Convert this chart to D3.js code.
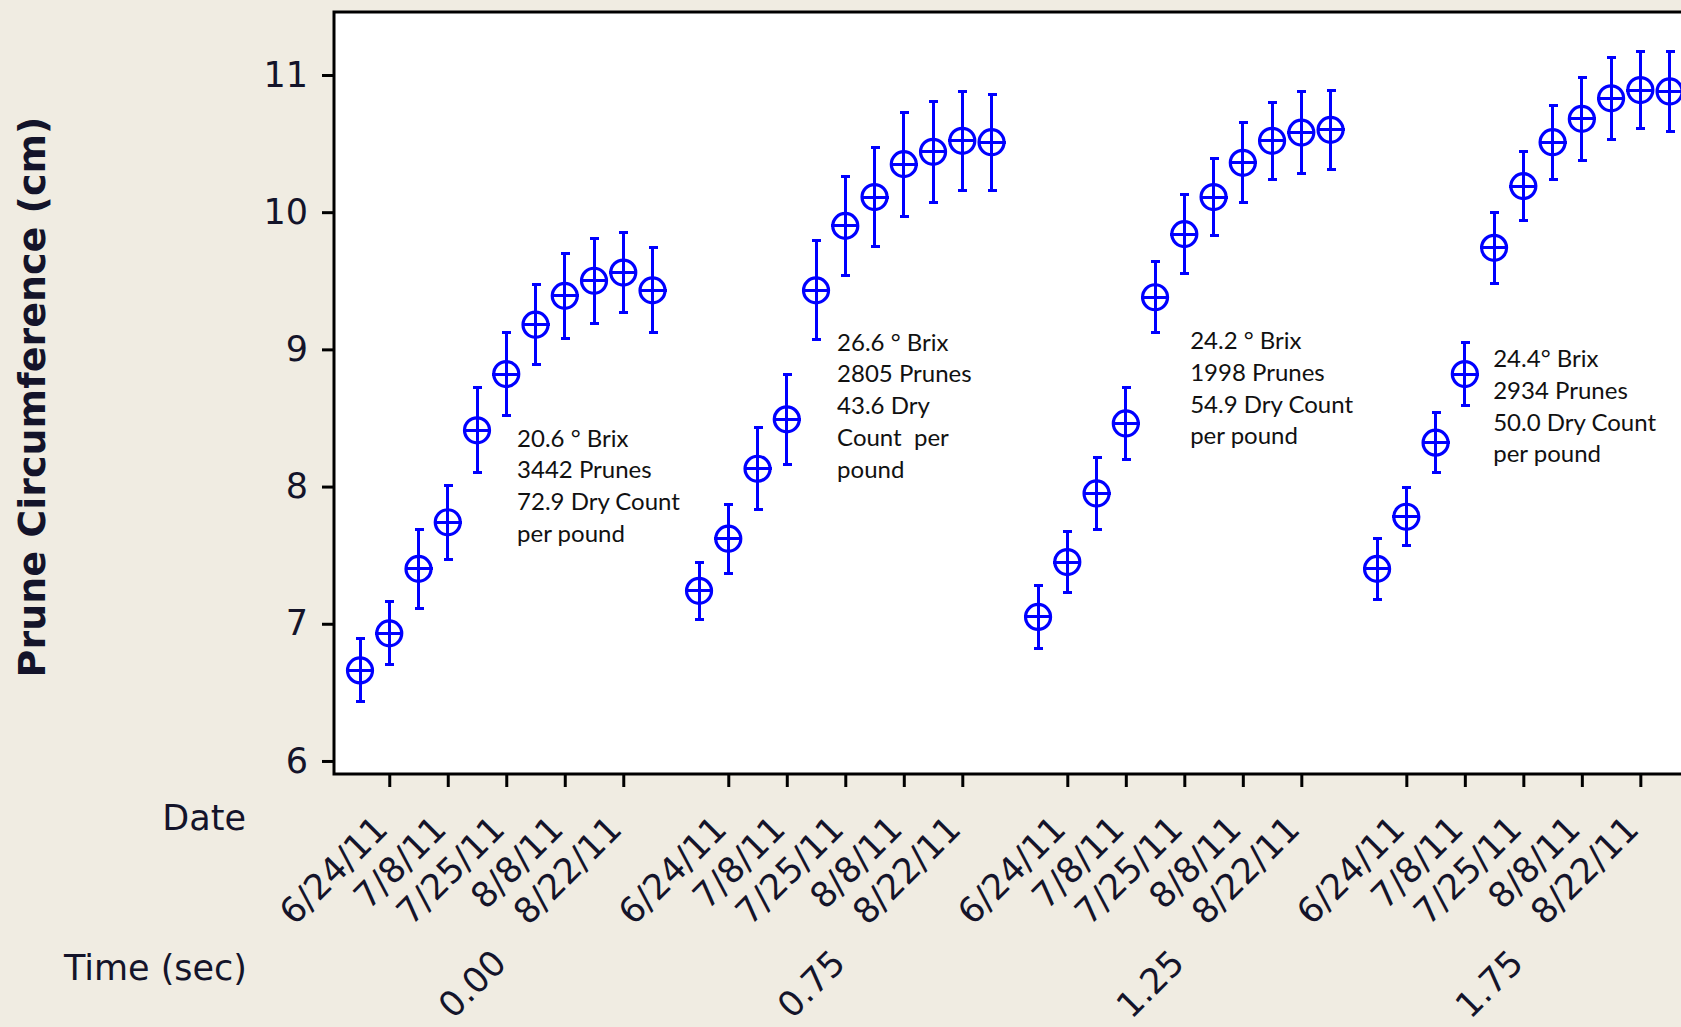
<!DOCTYPE html>
<html>
<head>
<meta charset="utf-8">
<script src="https://cdn.jsdelivr.net/npm/d3@7"></script>
<style>
  body { margin: 0; background: #f0ece2; }
  svg { display: block; }
</style>
</head>
<body>
<div id="chart"></div>
<script>
// outer x categories (Time) and inner ones (Date, only every 2nd date is labelled)
const timeGroups = ["0.00", "0.75", "1.25", "1.75"];
const dateLabels = ["", "6/24/11", "", "7/8/11", "", "7/25/11", "", "8/8/11", "", "8/22/11", ""];
const yTicks = [6, 7, 8, 9, 10, 11];

// mean prune circumference (cm) and CI half width, per date
const mean000 = [6.66, 6.93, 7.40, 7.74, 8.41, 8.82, 9.18, 9.39, 9.50, 9.56, 9.43];
const ci000   = [0.23, 0.23, 0.29, 0.27, 0.31, 0.30, 0.29, 0.31, 0.31, 0.29, 0.31];
const mean075 = [7.24, 7.62, 8.13, 8.49, 9.43, 9.90, 10.11, 10.35, 10.44, 10.52, 10.51];
const ci075   = [0.21, 0.25, 0.30, 0.33, 0.36, 0.36, 0.36, 0.38, 0.37, 0.36, 0.35];
const mean125 = [7.05, 7.45, 7.95, 8.46, 9.38, 9.84, 10.11, 10.36, 10.52, 10.58, 10.60];
const ci125   = [0.23, 0.22, 0.26, 0.26, 0.26, 0.29, 0.28, 0.29, 0.28, 0.30, 0.29];
const mean175 = [7.40, 7.78, 8.32, 8.82, 9.74, 10.19, 10.51, 10.68, 10.83, 10.89, 10.88];
const ci175   = [0.22, 0.21, 0.22, 0.23, 0.26, 0.25, 0.27, 0.30, 0.30, 0.28, 0.29];

// text notes for each time group
const note000 = ["20.6 \u00b0 Brix", "3442 Prunes", "72.9 Dry Count", "per pound"];
const note075 = ["26.6 \u00b0 Brix", "2805 Prunes", "43.6 Dry", "Count  per", "pound"];
const note125 = ["24.2 \u00b0 Brix", "1998 Prunes", "54.9 Dry Count", "per pound"];
const note175 = ["24.4\u00b0 Brix", "2934 Prunes", "50.0 Dry Count", "per pound"];

const means = [mean000, mean075, mean125, mean175];
const cis = [ci000, ci075, ci125, ci175];
const notes = [note000, note075, note125, note175];
// note anchor: slot inside the group, y value of the first baseline
const noteAnchor = [[5.37, 8.29], [4.72, 8.99], [5.2, 9.0], [3.97, 8.87]];

const groupStride = 11.59; // slots per time group incl. gap

function drawChart() {
  d3.select("#chart").select("svg").remove();

  const width = 1681, height = 1027;
  const plot = { left: 334, top: 12, bottom: 774 };
  const ink = "#14142a";
  const blue = "#0000ff";
  const axisFont = "'DejaVu Sans', sans-serif";

  const svg = d3.select("#chart").append("svg")
    .attr("width", width)
    .attr("height", height);

  svg.append("rect").attr("width", width).attr("height", height).attr("fill", "#f0ece2");

  const x = d3.scaleLinear().domain([-0.889, 45.16]).range([plot.left, width]);
  const y = d3.scaleLinear().domain([5.905, 11.459]).range([plot.bottom, plot.top]);

  // flatten to one row per point
  const rows = [];
  means.forEach((m, g) => m.forEach((v, i) => {
    rows.push({ slot: g * groupStride + i, mean: v, ci: cis[g][i] });
  }));

  // plot frame
  svg.append("rect")
    .attr("x", plot.left).attr("y", plot.top)
    .attr("width", width + 20 - plot.left).attr("height", plot.bottom - plot.top)
    .attr("fill", "white").attr("stroke", "black").attr("stroke-width", 3);

  // y axis
  const yAxis = svg.append("g")
    .attr("transform", `translate(${plot.left - 1}, 0)`)
    .call(d3.axisLeft(y).tickValues(yTicks).tickSize(11).tickPadding(14).tickFormat(d3.format("d")));
  yAxis.select(".domain").remove();
  yAxis.selectAll("line").attr("stroke", "black").attr("stroke-width", 3);
  yAxis.selectAll("text")
    .attr("font-family", axisFont).attr("font-size", 35).attr("fill", ink);

  // x axis: ticks at labelled dates
  const tickSlots = [];
  timeGroups.forEach((t, g) => dateLabels.forEach((d, i) => {
    if (d) tickSlots.push({ slot: g * groupStride + i, label: d });
  }));
  const xAxis = svg.append("g")
    .attr("transform", `translate(0, ${plot.bottom + 1})`)
    .call(d3.axisBottom(x).tickValues(tickSlots.map(d => d.slot)).tickSize(12)
      .tickFormat((d, i) => tickSlots[i].label));
  xAxis.select(".domain").remove();
  xAxis.selectAll("line").attr("stroke", "black").attr("stroke-width", 3);
  xAxis.selectAll("text")
    .attr("font-family", axisFont).attr("font-size", 35).attr("fill", ink)
    .attr("text-anchor", "end")
    .attr("y", 0).attr("dy", 0)
    .attr("transform", "translate(0, 56) rotate(-45)");

  // time group labels
  svg.selectAll(".time")
    .data(timeGroups)
    .enter().append("text")
      .attr("class", "time")
      .attr("font-family", axisFont).attr("font-size", 35).attr("fill", ink)
      .attr("text-anchor", "end")
      .attr("transform", (d, g) => `translate(${x(g * groupStride + 5) + 2}, 965) rotate(-45)`)
      .text(d => d);

  // row titles
  svg.append("text")
    .attr("x", 246).attr("y", 830)
    .attr("text-anchor", "end")
    .attr("font-family", axisFont).attr("font-size", 35).attr("fill", ink)
    .text("Date");
  svg.append("text")
    .attr("x", 247).attr("y", 980)
    .attr("text-anchor", "end")
    .attr("font-family", axisFont).attr("font-size", 35).attr("fill", ink)
    .text("Time (sec)");

  // y title
  svg.append("text")
    .attr("transform", "translate(45, 397) rotate(-90)")
    .attr("text-anchor", "middle")
    .attr("font-family", axisFont).attr("font-size", 38).attr("font-weight", "bold")
    .attr("fill", ink)
    .text("Prune Circumference (cm)");

  // interval marks
  const marks = svg.append("g")
    .attr("stroke", blue).attr("stroke-width", 3).attr("fill", "none")
    .attr("shape-rendering", "crispEdges");
  const pts = marks.selectAll("g").data(rows).enter().append("g");

  pts.append("line")
    .attr("x1", d => x(d.slot)).attr("x2", d => x(d.slot))
    .attr("y1", d => y(d.mean + d.ci)).attr("y2", d => y(d.mean - d.ci));
  pts.append("line")
    .attr("x1", d => x(d.slot) - 4).attr("x2", d => x(d.slot) + 5)
    .attr("y1", d => y(d.mean + d.ci)).attr("y2", d => y(d.mean + d.ci));
  pts.append("line")
    .attr("x1", d => x(d.slot) - 4).attr("x2", d => x(d.slot) + 5)
    .attr("y1", d => y(d.mean - d.ci)).attr("y2", d => y(d.mean - d.ci));
  pts.append("line")
    .attr("x1", d => x(d.slot) - 14).attr("x2", d => x(d.slot) + 14)
    .attr("y1", d => y(d.mean)).attr("y2", d => y(d.mean));
  pts.append("circle")
    .attr("cx", d => x(d.slot)).attr("cy", d => y(d.mean))
    .attr("r", 12.5)
    .attr("stroke-width", 3.2)
    .attr("shape-rendering", "auto");

  // notes
  notes.forEach((lines, g) => {
    const t = svg.append("text")
      .attr("font-family", "Lato, 'Open Sans', sans-serif")
      .attr("font-size", 24)
      .attr("fill", "#111")
      .style("white-space", "pre");
    lines.forEach((line, k) => {
      t.append("tspan")
        .attr("x", x(g * groupStride + noteAnchor[g][0]))
        .attr("y", y(noteAnchor[g][1]) + k * 31.7)
        .text(line);
    });
  });
}

drawChart();
</script>
</body>
</html>
